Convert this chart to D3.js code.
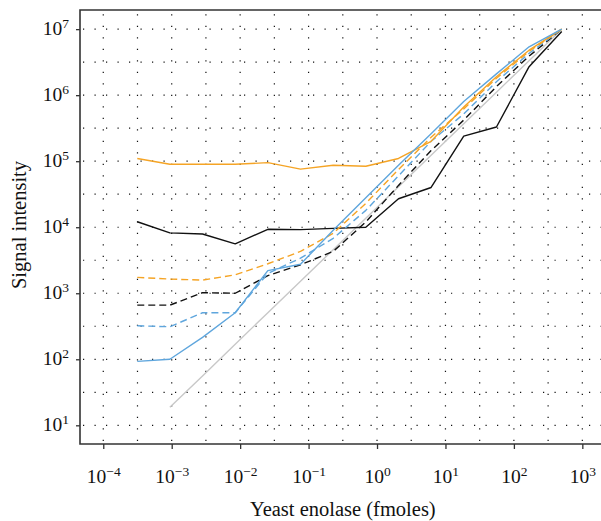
<!DOCTYPE html>
<html>
<head>
<meta charset="utf-8">
<script src="https://cdn.jsdelivr.net/npm/d3@7"></script>
<style>
html,body{margin:0;padding:0;background:#fff;}
svg text{font-family:"Liberation Serif","Times New Roman",serif;fill:#111;}
</style>
</head>
<body>
<svg id="chart" width="601" height="521"></svg>
<script>
// ---- data ----
const amounts = [0.000314, 0.00094, 0.00282, 0.00847, 0.0254, 0.0762, 0.229, 0.686, 2.06, 6.17, 18.5, 55.6, 166.7, 500];
const orangeSolid  = [1.1e5, 9.0e4, 9.0e4, 9.0e4, 9.5e4, 7.6e4, 8.7e4, 8.4e4, 1.1e5, 2.0e5, 6.6e5, 1.9e6, 4.8e6, 1.0e7];
const orangeDashed = [1740, 1640, 1580, 1900, 2800, 4300, 8100, 2.3e4, 7.5e4, 2.3e5, 6.2e5, 1.8e6, 4.6e6, 1.0e7];
const blueSolid    = [93, 100, 215, 507, 2200, 2750, 9000, 2.8e4, 8.7e4, 2.6e5, 8.0e5, 2.1e6, 5.4e6, 1.0e7];
const blueDashed   = [322, 311, 507, 507, 2000, 3400, 6800, 1.8e4, 6.0e4, 2.0e5, 5.2e5, 1.6e6, 4.3e6, 1.0e7];
const blackSolid   = [1.21e4, 8200, 7900, 5600, 9300, 9200, 9600, 1.0e4, 2.7e4, 4.0e4, 2.4e5, 3.3e5, 2.7e6, 9.2e6];
const blackDashed  = [660, 660, 1020, 1000, 1850, 2700, 4300, 1.2e4, 4.3e4, 1.45e5, 4.2e5, 1.35e6, 3.9e6, 1.0e7];
const grayRef      = [null, 18.8, 56, 169, 508, 1520, 4570, 1.37e4, 4.12e4, 1.23e5, 3.7e5, 1.11e6, 3.33e6, 1.0e7];

const xTickExps = [-4, -3, -2, -1, 0, 1, 2, 3];
const yTickExps = [1, 2, 3, 4, 5, 6, 7];
const xTitle = "Yeast enolase (fmoles)";
const yTitle = "Signal intensity";

// ---- layout ----
const svg = d3.select("#chart");
const L = 80, R = 605.6, T = 10, B = 444;
const x = d3.scaleLog().domain([Math.pow(10, -4.34), Math.pow(10, 3.34)]).range([L, R]);
const y = d3.scaleLog().domain([Math.pow(10, 0.717), Math.pow(10, 7.29)]).range([B, T]);

// grid (half-decade dotted lines)
const gx = d3.range(-4, 3.01, 0.5).map(e => Math.pow(10, e));
const gy = d3.range(1, 7.01, 0.5).map(e => Math.pow(10, e));
const grid = svg.append("g").attr("stroke", "#111").attr("stroke-width", 1.2).attr("stroke-dasharray", "1.2,10.3");
grid.selectAll("line.v").data(gx).join("line").attr("class", "v")
  .attr("x1", d => x(d)).attr("x2", d => x(d)).attr("y1", B - 3).attr("y2", T + 4);
grid.selectAll("line.h").data(gy).join("line").attr("class", "h")
  .attr("y1", d => y(d)).attr("y2", d => y(d)).attr("x1", L + 3).attr("x2", 601);

// series
const series = [
  {v: grayRef, color: "#c8c8c8", dash: null},
  {v: blackSolid, color: "#111", dash: null},
  {v: blackDashed, color: "#111", dash: "7,4"},
  {v: blueDashed, color: "#5fa6dd", dash: "7,4"},
  {v: orangeDashed, color: "#f5a425", dash: "7,4"},
  {v: orangeSolid, color: "#f5a425", dash: null},
  {v: blueSolid, color: "#5fa6dd", dash: null}
];
const line = d3.line()
  .defined(d => d[1] != null)
  .x(d => x(d[0])).y(d => y(d[1]));
svg.append("g").selectAll("path").data(series).join("path")
  .attr("d", s => line(amounts.map((a, i) => [a, s.v[i]])))
  .attr("fill", "none")
  .attr("stroke", s => s.color)
  .attr("stroke-width", 1.4)
  .attr("stroke-linejoin", "round")
  .attr("stroke-dasharray", s => s.dash);

// axes
const xAxis = svg.append("g").attr("transform", `translate(0,${B})`)
  .call(d3.axisBottom(x).tickValues(xTickExps.map(e => Math.pow(10, e))).tickFormat("").tickSizeOuter(0).tickSize(5));
const yAxis = svg.append("g").attr("transform", `translate(${L},0)`)
  .call(d3.axisLeft(y).tickValues(yTickExps.map(e => Math.pow(10, e))).tickFormat("").tickSizeOuter(0).tickSize(4));
[xAxis, yAxis].forEach(a => {
  a.select(".domain").remove();
  a.selectAll(".tick line").attr("stroke", "#333").attr("stroke-width", 1.3);
});

xAxis.selectAll(".tick").append("text")
  .attr("y", 38.5).attr("text-anchor", "middle").attr("font-size", 19.5)
  .each(function(d) {
    const t = d3.select(this);
    const e = Math.round(Math.log10(d));
    t.append("tspan").text("10");
    t.append("tspan").attr("font-size", 13.5).attr("dy", -7).text(String(e).replace("-", "\u2212"));
  });
yAxis.selectAll(".tick").append("text")
  .attr("x", -11).attr("y", 5.5).attr("text-anchor", "end").attr("font-size", 19.5)
  .each(function(d) {
    const t = d3.select(this);
    const e = Math.round(Math.log10(d));
    t.append("tspan").text("10");
    t.append("tspan").attr("font-size", 13.5).attr("dy", -7).text(String(e));
  });

// frame
const frame = svg.append("g").attr("stroke", "#333").attr("stroke-width", 1.6).attr("fill", "none");
frame.append("path").attr("d", `M${R},${T}H${L}V${B}H${R}`);

// titles
svg.append("text").attr("x", (L + R) / 2).attr("y", 516).attr("text-anchor", "middle")
  .attr("font-size", 20.5).text(xTitle);
svg.append("text").attr("transform", `translate(26,${(T + B) / 2 - 2}) rotate(-90)`)
  .attr("text-anchor", "middle").attr("font-size", 20.5).text(yTitle);
</script>
</body>
</html>
